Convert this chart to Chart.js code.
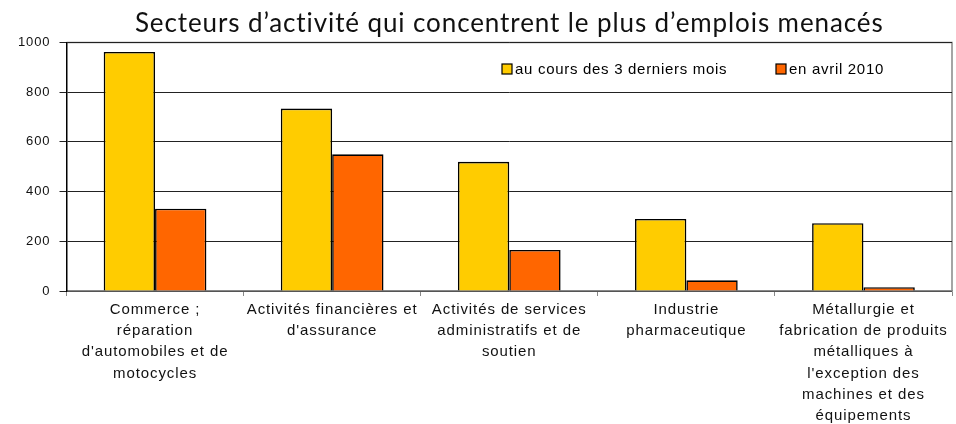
<!DOCTYPE html>
<html lang="fr">
<head>
<meta charset="utf-8">
<title>Secteurs d'activité</title>
<script src="https://cdn.jsdelivr.net/npm/chart.js@4.4.1/dist/chart.umd.min.js"></script>
<style>
  body { margin: 0; background: #fff; }
  #wrap { width: 956px; height: 424px; }
</style>
</head>
<body>
<div id="wrap"><canvas id="myChart"></canvas></div>
<script>
const categories = [
  ['Commerce ;', 'réparation', "d'automobiles et de", 'motocycles'],
  ['Activités financières et', "d'assurance"],
  ['Activités de services', 'administratifs et de', 'soutien'],
  ['Industrie', 'pharmaceutique'],
  ['Métallurgie et', 'fabrication de produits', 'métalliques à', "l'exception des", 'machines et des', 'équipements']
];
const seriesNames = ['au cours des 3 derniers mois', 'en avril 2010'];
const last3Months = [962, 734, 520, 290, 273];
const april2010 = [331, 550, 165, 43, 15];
const yTicks = [0, 200, 400, 600, 800, 1000];

const yellow = '#FFCC00';
const orange = '#FF6600';

// Excel-like wide letter spacing for the title and axis labels
const spacing = {
  id: 'spacing',
  beforeDraw(chart) { chart.ctx.letterSpacing = '0.9px'; },
  beforeDatasetsDraw(chart) { chart.ctx.letterSpacing = '0px'; }
};

// legend sits inside the plot, between the 1000 and 800 lines
const insideLegend = {
  id: 'insideLegend',
  afterDraw(chart) {
    const c = chart.ctx;
    const xs = [502, 776];
    const y = 69;
    c.save();
    c.font = '15px "Liberation Sans", Arial, sans-serif';
    c.letterSpacing = '0.7px';
    c.textBaseline = 'middle';
    c.textAlign = 'left';
    chart.data.datasets.forEach((ds, i) => {
      c.fillStyle = ds.backgroundColor;
      c.fillRect(xs[i], y - 5, 10, 10);
      c.strokeStyle = '#000';
      c.lineWidth = 1.2;
      c.strokeRect(xs[i], y - 5, 10, 10);
      c.fillStyle = '#000';
      c.fillText(ds.label, xs[i] + 13, y + 1);
    });
    c.restore();
  }
};

// grey frame on top and right of the plot area
const plotFrame = {
  id: 'plotFrame',
  beforeDraw(chart) {
    const a = chart.chartArea;
    const c = chart.ctx;
    c.save();
    c.strokeStyle = '#888';
    c.lineWidth = 1.5;
    c.beginPath();
    c.moveTo(a.left, a.top);
    c.lineTo(a.right, a.top);
    c.lineTo(a.right, a.bottom);
    c.stroke();
    c.restore();
  }
};

const ctx = document.getElementById('myChart');

new Chart(ctx, {
  type: 'bar',
  data: {
    labels: categories,
    datasets: [{
      label: seriesNames[0],
      data: last3Months,
      backgroundColor: yellow,
      borderColor: '#000',
      borderWidth: 1.6
    }, {
      label: seriesNames[1],
      data: april2010,
      backgroundColor: orange,
      borderColor: '#000',
      borderWidth: 1.6
    }]
  },
  options: {
    responsive: true,
    maintainAspectRatio: false,
    animation: false,
    layout: { padding: { left: 0, right: 4, top: 0, bottom: 0 } },
    datasets: {
      bar: { categoryPercentage: 0.58, barPercentage: 1 }
    },
    plugins: {
      legend: { display: false },
      tooltip: { enabled: false },
      title: {
        display: true,
        fullSize: false,
        text: 'Secteurs d’activité qui concentrent le plus d’emplois menacés',
        color: '#111',
        font: { family: 'Lato, "Open Sans", sans-serif', size: 26, weight: 'normal', lineHeight: 1.15 },
        padding: { top: 9, bottom: 3.6 }
      }
    },
    scales: {
      x: {
        grid: { display: true, drawOnChartArea: false, offset: true, color: '#888', tickLength: 5 },
        border: { color: '#888', width: 1.5 },
        ticks: {
          color: '#111',
          font: { family: '"Liberation Sans", Arial, sans-serif', size: 15, lineHeight: 1.42 },
          padding: 3,
          maxRotation: 0,
          minRotation: 0,
          autoSkip: false
        },
        afterFit(scale) { scale.height = 133; }
      },
      y: {
        min: 0,
        max: 1000,
        afterBuildTicks(scale) { scale.ticks = yTicks.map(v => ({ value: v })); },
        grid: { color: '#222', lineWidth: 1, tickLength: 7 },
        border: { color: '#000', width: 1.5 },
        ticks: {
          color: '#111',
          font: { family: '"Liberation Sans", Arial, sans-serif', size: 13 },
          padding: 9,
          callback: (v) => String(v)
        },
        afterFit(scale) { scale.width = 66.5; }
      }
    }
  },
  plugins: [spacing, plotFrame, insideLegend]
});
</script>
</body>
</html>
